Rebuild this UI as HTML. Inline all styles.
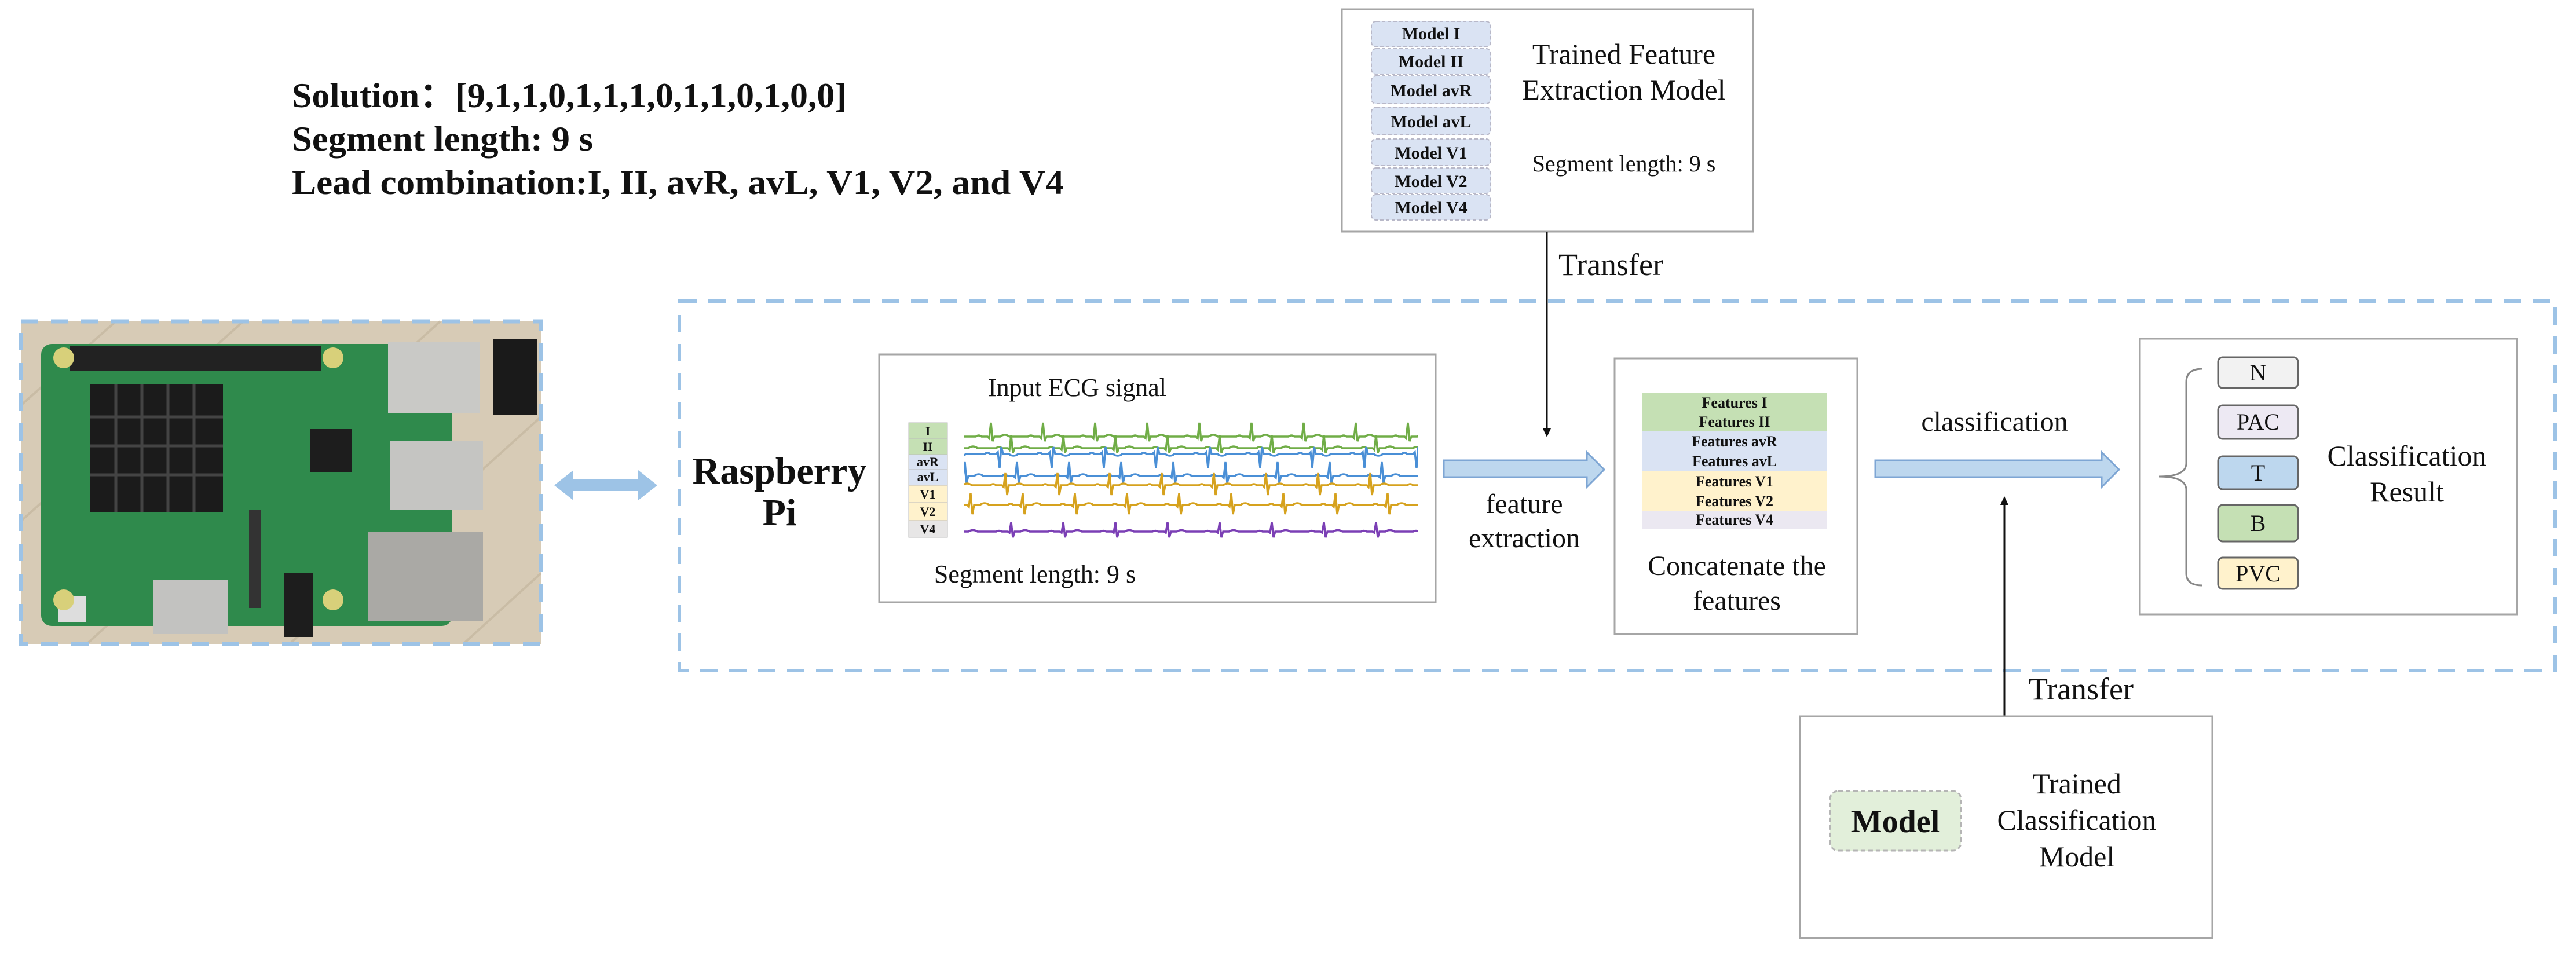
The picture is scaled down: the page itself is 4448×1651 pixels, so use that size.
<!DOCTYPE html>
<html><head><meta charset="utf-8"><style>
html,body{margin:0;padding:0;background:#fff;}
svg{display:block;}
text{font-family:"Liberation Serif",serif;fill:#111;}
</style></head><body>
<svg width="4448" height="1651" viewBox="0 0 4448 1651" xmlns="http://www.w3.org/2000/svg">
<defs>
<pattern id="p1" patternUnits="userSpaceOnUse" x="1665" y="726" width="90" height="40"><path d="M0,28 L20,28 Q25,24 30,28 L40,28 L43,31 L46,4 L49,36 L52,28 L62,28 Q70,22 78,28 L90,28" fill="none" stroke="#70ad47" stroke-width="3.5"/></pattern>
<pattern id="p2" patternUnits="userSpaceOnUse" x="1700" y="746" width="90" height="40"><path d="M0,28 L20,28 Q25,24 30,28 L40,28 L43,31 L46,6 L49,36 L52,28 L62,28 Q70,22 78,28 L90,28" fill="none" stroke="#70ad47" stroke-width="3.5"/></pattern>
<pattern id="p3" patternUnits="userSpaceOnUse" x="1680" y="766" width="90" height="45"><path d="M0,18 L20,18 Q25,14 30,18 L40,18 L43,15 L46,42 L49,6 L52,18 L62,18 Q70,24 78,18 L90,18" fill="none" stroke="#4a8fd6" stroke-width="3.5"/></pattern>
<pattern id="p4" patternUnits="userSpaceOnUse" x="1710" y="796" width="90" height="44"><path d="M0,26 L20,26 Q25,22 30,26 L40,26 L43,29 L46,2 L49,38 L52,26 L62,26 Q70,20 78,26 L90,26" fill="none" stroke="#4a8fd6" stroke-width="3.5"/></pattern>
<pattern id="p5" patternUnits="userSpaceOnUse" x="1690" y="815" width="90" height="45"><path d="M0,23 L20,23 Q25,19 30,23 L40,23 L43,26 L46,2 L49,40 L52,23 L62,23 Q70,17 78,23 L90,23" fill="none" stroke="#d6a21e" stroke-width="3.5"/></pattern>
<pattern id="p6" patternUnits="userSpaceOnUse" x="1720" y="850" width="90" height="45"><path d="M0,22 L20,22 Q25,18 30,22 L40,22 L43,25 L46,2 L49,38 L52,22 L62,22 Q70,16 78,22 L90,22" fill="none" stroke="#d6a21e" stroke-width="3.5"/></pattern>
<pattern id="p7" patternUnits="userSpaceOnUse" x="1700" y="898" width="90" height="36"><path d="M0,20 L20,20 Q25,17 30,20 L40,20 L43,22 L46,4 L49,30 L52,20 L62,20 Q70,15 78,20 L90,20" fill="none" stroke="#7b3fb5" stroke-width="3.5"/></pattern>
</defs>

<g font-weight="bold" font-size="60">
<text x="504" y="185" textLength="958" lengthAdjust="spacingAndGlyphs">Solution：[9,1,1,0,1,1,1,0,1,1,0,1,0,0]</text>
<text x="504" y="260" textLength="520" lengthAdjust="spacingAndGlyphs">Segment length: 9 s</text>
<text x="504" y="335" textLength="1333" lengthAdjust="spacingAndGlyphs">Lead combination:I, II, avR, avL, V1, V2, and V4</text>
</g>

<!-- photo -->
<rect x="36" y="555" width="898" height="557" fill="#d7cbb6"/>
<g stroke="#c4b79f" stroke-width="4" opacity="0.7">
<line x1="36" y1="700" x2="200" y2="555"/><line x1="36" y1="900" x2="420" y2="555"/><line x1="150" y1="1112" x2="760" y2="555"/><line x1="500" y1="1112" x2="934" y2="720"/><line x1="800" y1="1112" x2="934" y2="990"/>
</g>
<rect x="71" y="594" width="710" height="487" rx="18" fill="#2f8a4c"/>
<rect x="121" y="597" width="434" height="44" fill="#222"/>
<rect x="156" y="663" width="229" height="221" fill="#1b1b1b"/>
<g stroke="#444" stroke-width="5"><line x1="200" y1="663" x2="200" y2="884"/><line x1="245" y1="663" x2="245" y2="884"/><line x1="290" y1="663" x2="290" y2="884"/><line x1="335" y1="663" x2="335" y2="884"/><line x1="156" y1="720" x2="385" y2="720"/><line x1="156" y1="770" x2="385" y2="770"/><line x1="156" y1="820" x2="385" y2="820"/></g>
<rect x="535" y="741" width="73" height="74" fill="#1d1d1d"/>
<rect x="670" y="590" width="158" height="124" fill="#c9c9c6"/>
<rect x="852" y="585" width="76" height="132" fill="#1a1a1a"/>
<rect x="673" y="761" width="161" height="120" fill="#c5c5c2"/>
<rect x="635" y="919" width="199" height="154" fill="#aaa9a5"/>
<rect x="265" y="1001" width="129" height="94" fill="#c2c2c0"/>
<rect x="100" y="1030" width="48" height="45" fill="#ddd"/>
<rect x="490" y="990" width="50" height="110" fill="#1d1d1d"/>
<rect x="430" y="880" width="20" height="170" fill="#333"/>
<g fill="#d8d07a"><circle cx="110" cy="618" r="18"/><circle cx="575" cy="618" r="18"/><circle cx="110" cy="1036" r="18"/><circle cx="575" cy="1036" r="18"/></g>
<rect x="36" y="555" width="898" height="557" fill="none" stroke="#9dc3e6" stroke-width="7" stroke-dasharray="30,22"/>

<path d="M957,838 L990,812 L990,828 L1102,828 L1102,812 L1135,838 L1102,864 L1102,848 L990,848 L990,864 Z" fill="#9dc3e6"/>

<rect x="1173" y="520" width="3239" height="638" fill="none" stroke="#9dc3e6" stroke-width="6" stroke-dasharray="30,20"/>

<text x="1346" y="835" font-size="66" font-weight="bold" text-anchor="middle">Raspberry</text>
<text x="1346" y="907" font-size="66" font-weight="bold" text-anchor="middle">Pi</text>

<rect x="1518" y="612" width="961" height="428" fill="#fff" stroke="#a6a6a6" stroke-width="3"/>
<text x="1860" y="684" font-size="44" text-anchor="middle">Input ECG signal</text>
<text x="1787" y="1006" font-size="44" text-anchor="middle">Segment length: 9 s</text>
<g font-size="22" font-weight="bold" text-anchor="middle">
<rect x="1569" y="730" width="67" height="28" fill="#c5e0b4" stroke="#bbb"/><text x="1602" y="752">I</text>
<rect x="1569" y="758" width="67" height="27" fill="#c5e0b4" stroke="#bbb"/><text x="1602" y="779">II</text>
<rect x="1569" y="785" width="67" height="26" fill="#dae3f3" stroke="#bbb"/><text x="1602" y="805">avR</text>
<rect x="1569" y="811" width="67" height="27" fill="#dae3f3" stroke="#bbb"/><text x="1602" y="831">avL</text>
<rect x="1569" y="838" width="67" height="30" fill="#fff2cc" stroke="#bbb"/><text x="1602" y="861">V1</text>
<rect x="1569" y="868" width="67" height="31" fill="#fff2cc" stroke="#bbb"/><text x="1602" y="891">V2</text>
<rect x="1569" y="899" width="67" height="29" fill="#e7e6e6" stroke="#bbb"/><text x="1602" y="921">V4</text>
</g>
<rect x="1665" y="726" width="783" height="40" fill="url(#p1)"/>
<rect x="1665" y="746" width="783" height="40" fill="url(#p2)"/>
<rect x="1665" y="766" width="783" height="45" fill="url(#p3)"/>
<rect x="1665" y="796" width="783" height="44" fill="url(#p4)"/>
<rect x="1665" y="815" width="783" height="45" fill="url(#p5)"/>
<rect x="1665" y="850" width="783" height="45" fill="url(#p6)"/>
<rect x="1665" y="898" width="783" height="36" fill="url(#p7)"/>

<path d="M2493,795 L2740,795 L2740,781 L2770,811 L2740,841 L2740,824 L2493,824 Z" fill="#bdd7ee" stroke="#7ea6d4" stroke-width="3"/>
<text x="2632" y="886" font-size="48" text-anchor="middle">feature</text>
<text x="2632" y="945" font-size="48" text-anchor="middle">extraction</text>

<rect x="2317" y="16" width="710" height="384" fill="#fff" stroke="#a6a6a6" stroke-width="3"/>
<g font-size="30" font-weight="bold" text-anchor="middle">
<rect x="2368" y="37" width="206" height="44" rx="8" fill="#dae3f3" stroke="#b8b8c8" stroke-width="2" stroke-dasharray="6,4"/><text x="2471" y="68">Model I</text>
<rect x="2368" y="84" width="206" height="44" rx="8" fill="#dae3f3" stroke="#b8b8c8" stroke-width="2" stroke-dasharray="6,4"/><text x="2471" y="116">Model II</text>
<rect x="2368" y="131" width="206" height="48" rx="8" fill="#dae3f3" stroke="#b8b8c8" stroke-width="2" stroke-dasharray="6,4"/><text x="2471" y="166">Model avR</text>
<rect x="2368" y="185" width="206" height="48" rx="8" fill="#dae3f3" stroke="#b8b8c8" stroke-width="2" stroke-dasharray="6,4"/><text x="2471" y="220">Model avL</text>
<rect x="2368" y="240" width="206" height="46" rx="8" fill="#dae3f3" stroke="#b8b8c8" stroke-width="2" stroke-dasharray="6,4"/><text x="2471" y="274">Model V1</text>
<rect x="2368" y="290" width="206" height="44" rx="8" fill="#dae3f3" stroke="#b8b8c8" stroke-width="2" stroke-dasharray="6,4"/><text x="2471" y="323">Model V2</text>
<rect x="2368" y="336" width="206" height="44" rx="8" fill="#dae3f3" stroke="#b8b8c8" stroke-width="2" stroke-dasharray="6,4"/><text x="2471" y="368">Model V4</text>
</g>
<text x="2804" y="110" font-size="50" text-anchor="middle">Trained Feature</text>
<text x="2804" y="172" font-size="50" text-anchor="middle">Extraction Model</text>
<text x="2804" y="296" font-size="40" text-anchor="middle">Segment length: 9 s</text>

<line x1="2671" y1="400" x2="2671" y2="742" stroke="#111" stroke-width="3"/>
<path d="M2664,740 L2678,740 L2671,755 Z" fill="#111"/>
<text x="2691" y="475" font-size="54">Transfer</text>

<rect x="2788" y="619" width="419" height="476" fill="#fff" stroke="#a6a6a6" stroke-width="3"/>
<g font-size="26" font-weight="bold" text-anchor="middle">
<rect x="2835" y="679" width="320" height="33" fill="#c5e0b4"/><text x="2995" y="704">Features I</text>
<rect x="2835" y="712" width="320" height="33" fill="#c5e0b4"/><text x="2995" y="737">Features II</text>
<rect x="2835" y="745" width="320" height="34" fill="#dae3f3"/><text x="2995" y="771">Features avR</text>
<rect x="2835" y="779" width="320" height="34" fill="#dae3f3"/><text x="2995" y="805">Features avL</text>
<rect x="2835" y="813" width="320" height="36" fill="#fff2cc"/><text x="2995" y="840">Features V1</text>
<rect x="2835" y="849" width="320" height="33" fill="#fff2cc"/><text x="2995" y="874">Features V2</text>
<rect x="2835" y="882" width="320" height="32" fill="#ebe8f1"/><text x="2995" y="906">Features V4</text>
</g>
<text x="2999" y="993" font-size="48" text-anchor="middle">Concatenate the</text>
<text x="2999" y="1053" font-size="48" text-anchor="middle">features</text>

<path d="M3238,795 L3629,795 L3629,781 L3659,811 L3629,841 L3629,824 L3238,824 Z" fill="#bdd7ee" stroke="#7ea6d4" stroke-width="3"/>
<text x="3444" y="744" font-size="48" text-anchor="middle">classification</text>

<line x1="3461" y1="1237" x2="3461" y2="870" stroke="#111" stroke-width="3"/>
<path d="M3454,872 L3468,872 L3461,857 Z" fill="#111"/>
<text x="3503" y="1208" font-size="54">Transfer</text>

<rect x="3695" y="585" width="651" height="476" fill="#fff" stroke="#a6a6a6" stroke-width="3"/>
<path d="M3803,637 Q3775,637 3775,660 L3775,800 Q3775,823 3728,823 Q3775,823 3775,846 L3775,990 Q3775,1011 3803,1011" fill="none" stroke="#888" stroke-width="3"/>
<g font-size="40" text-anchor="middle" stroke-width="3">
<rect x="3830" y="617" width="138" height="53" rx="8" fill="#f2f2f2" stroke="#666"/><text x="3899" y="657">N</text>
<rect x="3830" y="700" width="138" height="58" rx="8" fill="#ede9f3" stroke="#666"/><text x="3899" y="742">PAC</text>
<rect x="3830" y="788" width="138" height="57" rx="8" fill="#bdd7ee" stroke="#666"/><text x="3899" y="830">T</text>
<rect x="3830" y="872" width="138" height="63" rx="8" fill="#c5e0b4" stroke="#666"/><text x="3899" y="917">B</text>
<rect x="3830" y="963" width="138" height="54" rx="8" fill="#fff2cc" stroke="#666"/><text x="3899" y="1004">PVC</text>
</g>
<text x="4156" y="804" font-size="50" text-anchor="middle">Classification</text>
<text x="4156" y="866" font-size="50" text-anchor="middle">Result</text>

<rect x="3108" y="1237" width="712" height="383" fill="#fff" stroke="#a6a6a6" stroke-width="3"/>
<rect x="3160" y="1366" width="226" height="103" rx="14" fill="#e2efda" stroke="#b5b5b5" stroke-width="3" stroke-dasharray="8,5"/>
<text x="3273" y="1437" font-size="56" font-weight="bold" text-anchor="middle">Model</text>
<text x="3586" y="1370" font-size="50" text-anchor="middle">Trained</text>
<text x="3586" y="1433" font-size="50" text-anchor="middle">Classification</text>
<text x="3586" y="1496" font-size="50" text-anchor="middle">Model</text>
</svg>
</body></html>
